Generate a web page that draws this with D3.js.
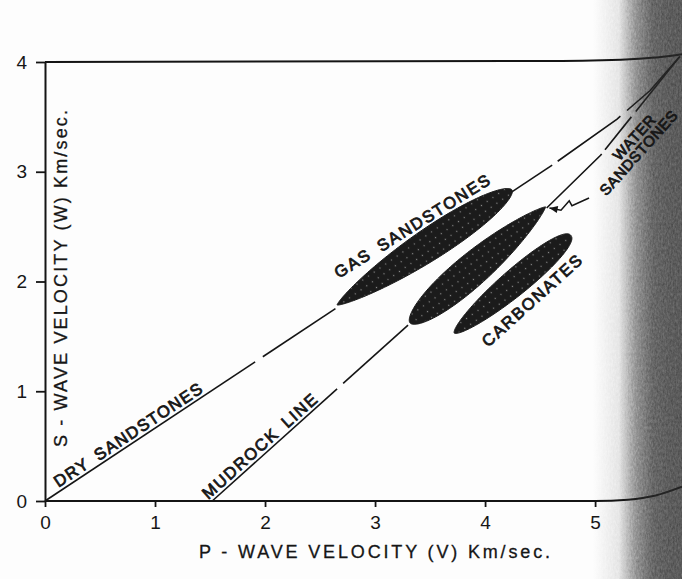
<!DOCTYPE html>
<html>
<head>
<meta charset="utf-8">
<script src="https://cdn.jsdelivr.net/npm/d3@7"></script>
<style>
  html, body { margin: 0; padding: 0; background: #fdfdfd; }
  svg { display: block; }
  text { font-family: "Liberation Sans", Arial, Helvetica, sans-serif; fill: #161616; }
</style>
</head>
<body>
<svg id="chart" width="682" height="579"></svg>
<script>
// ---- axis ticks ----
const xTicks = [0, 1, 2, 3, 4, 5];
const yTicks = [0, 1, 2, 3, 4];

// ---- trend lines, points are [P-wave velocity, S-wave velocity] in km/s ----
const dryLine = [[0, 0], [4.61, 3.06], [5.2, 3.48], [5.5, 3.74], [5.77, 4.05]];
const drySpans = [[0, 1.91], [1.98, 2.64], [4.24, 4.61], [4.66, 5.23], [5.29, 5.77]];
const mudrockLine = [[1.52, 0], [3.32, 1.62]];
const mudrockSpans = [[1.52, 2.655], [2.71, 3.30]];
const waterLine = [[4.56, 2.67], [5.05, 3.15], [5.77, 4.05]];
const waterSpans = [[4.56, 5.06], [5.09, 5.33], [5.37, 5.77]];

// frame edges (the sheet bends upward near the binding)
const topEdge = [[0, 4], [4.7, 4.01], [5.4, 4.03], [5.6, 4.045], [5.79, 4.07]];
const bottomEdge = [[0, 0], [5.0, 0], [5.3, 0.012], [5.55, 0.05], [5.79, 0.13]];

// ---- rock-type fields: elongated clouds between two end points ----
const fieldNames = ["GAS SANDSTONES", "WATER SANDSTONES", "CARBONATES"];
const fieldStart = [[2.655, 1.786], [3.318, 1.622], [3.72, 1.53]];
const fieldEnd = [[4.245, 2.834], [4.55, 2.68], [4.78, 2.42]];
const fieldSpread = [0.145, 0.15, 0.12];          // half-width, km/s of Vs
const fieldShape = [[0.75, 0.55], [0.55, 0.8], [0.6, 0.45]];

// zigzag pointer from the water-sandstone label to its field
const pointer = [[4.945, 2.76], [4.79, 2.69], [4.765, 2.735], [4.69, 2.65], [4.585, 2.67]];

// ---- annotation text (en spaces keep the wide word gaps of the lettering) ----
const labels = ["DRY\u2002SANDSTONES", "MUDROCK\u2002LINE", "GAS\u2002SANDSTONES", "CARBONATES", "WATER", "SANDSTONES"];
const labelAt = [[0.783, 0.558], [1.984, 0.46], [3.364, 2.459], [4.459, 1.786], [5.39, 3.28], [5.43, 3.14]];
const labelTilt = [33.5, 41.9, 32, 42, 48, 48];
const labelLength = [174, 148, 180, 128, 55, 108];
const labelSize = [16.5, 16.5, 16.5, 16.5, 15, 15];

const svg = d3.select("#chart");
const W = 682, H = 579;

const x = d3.scaleLinear().domain([0, 5.79]).range([45, 682]);
const y = d3.scaleLinear().domain([0, 4]).range([501, 62]);

const defs = svg.append("defs");

// stipple fill for the rock fields
const pat = defs.append("pattern")
  .attr("id", "stipple")
  .attr("patternUnits", "userSpaceOnUse")
  .attr("width", 7).attr("height", 7)
  .attr("patternTransform", "rotate(-35)");
pat.append("rect").attr("width", 7).attr("height", 7).attr("fill", "#1b1b1b");
pat.append("circle").attr("cx", 3.5).attr("cy", 3.5).attr("r", 0.7).attr("fill", "#8c8c8c");

// binding shadow on the right edge
const grad = defs.append("linearGradient").attr("id", "shade")
  .attr("x1", 0).attr("x2", 1).attr("y1", 0).attr("y2", 0);
[[0, 0], [0.3, 0.08], [0.5, 0.45], [0.68, 0.68], [0.85, 0.74], [1, 0.76]].forEach(([o, a]) =>
  grad.append("stop").attr("offset", o).attr("stop-color", "#2a2a2a").attr("stop-opacity", a));

const grain = defs.append("filter").attr("id", "grain")
  .attr("x", 0).attr("y", 0).attr("width", 1).attr("height", 1);
grain.append("feTurbulence").attr("type", "fractalNoise")
  .attr("baseFrequency", "0.6 0.3").attr("numOctaves", 3).attr("seed", 4).attr("result", "n");
grain.append("feComposite").attr("in", "SourceGraphic").attr("in2", "n").attr("operator", "in");

const line = d3.line().x(d => x(d[0])).y(d => y(d[1]));

function vsAt(pts, v) {
  for (let i = 1; i < pts.length; i++) {
    const [v0, w0] = pts[i - 1], [v1, w1] = pts[i];
    if (v <= v1 || i === pts.length - 1) return w0 + (w1 - w0) * (v - v0) / (v1 - v0);
  }
}
function spanPaths(pts, spans) {
  return spans.map(([s, e]) => {
    const p = [[s, vsAt(pts, s)]];
    pts.forEach(([v, w]) => { if (v > s && v < e) p.push([v, w]); });
    p.push([e, vsAt(pts, e)]);
    return line(p);
  });
}

// frame
const frame = svg.append("g").attr("fill", "none").attr("stroke", "#141414").attr("stroke-width", 2);
frame.append("path").attr("d", line.curve(d3.curveMonotoneX)(topEdge));
frame.append("path").attr("d", line.curve(d3.curveMonotoneX)(bottomEdge));
line.curve(d3.curveLinear);

// axes
const gx = svg.append("g")
  .attr("transform", `translate(0,${y(0)})`)
  .call(d3.axisBottom(x).tickValues(xTicks).tickSize(6).tickPadding(9).tickFormat(d3.format("d")));
gx.select(".domain").remove();
gx.selectAll(".tick line").attr("stroke", "#141414").attr("stroke-width", 1.8);
gx.selectAll(".tick text").attr("font-size", 19);

const gy = svg.append("g")
  .attr("transform", `translate(${x(0)},0)`)
  .call(d3.axisLeft(y).tickValues(yTicks).tickSize(9).tickSizeOuter(0).tickPadding(9).tickFormat(d3.format("d")));
gy.select(".domain").attr("stroke", "#141414").attr("stroke-width", 2);
gy.selectAll(".tick line").attr("stroke", "#141414").attr("stroke-width", 1.8);
gy.selectAll(".tick text").attr("font-size", 19);
gx.attr("font-family", null); gy.attr("font-family", null);

// axis titles
svg.append("text")
  .attr("x", 374.5).attr("y", 558)
  .attr("text-anchor", "middle")
  .attr("font-size", 18)
  .attr("stroke", "#161616").attr("stroke-width", 0.3)
  .attr("textLength", 351).attr("lengthAdjust", "spacing")
  .text("P - WAVE VELOCITY (V) Km/sec.");
svg.append("text")
  .attr("transform", "translate(67,278.5) rotate(-90)")
  .attr("text-anchor", "middle")
  .attr("font-size", 18)
  .attr("stroke", "#161616").attr("stroke-width", 0.3)
  .attr("textLength", 337).attr("lengthAdjust", "spacing")
  .text("S - WAVE VELOCITY (W) Km/sec.");

// trend lines
const trends = svg.append("g").attr("fill", "none").attr("stroke", "#151515").attr("stroke-width", 1.6);
[[dryLine, drySpans], [mudrockLine, mudrockSpans], [waterLine, waterSpans]].forEach(([pts, spans]) => {
  spanPaths(pts, spans).forEach(d => trends.append("path").attr("d", d));
});

// rock fields
function fieldPath(i) {
  const [v1, w1] = fieldStart[i], [v2, w2] = fieldEnd[i];
  const ax = x(v1), ay = y(w1), bx = x(v2), by = y(w2);
  const L = Math.hypot(bx - ax, by - ay), ux = (bx - ax) / L, uy = (by - ay) / L;
  const nx = -uy, ny = ux;
  const half = y(0) - y(fieldSpread[i]);
  const [a, b] = fieldShape[i];
  const tm = a / (a + b), norm = Math.pow(tm, a) * Math.pow(1 - tm, b);
  const up = [], dn = [];
  const N = 90;
  for (let k = 0; k <= N; k++) {
    const t = (1 - Math.cos(Math.PI * k / N)) / 2;
    const h = half * Math.pow(t, a) * Math.pow(1 - t, b) / norm;
    const px = ax + ux * L * t, py = ay + uy * L * t;
    up.push([px + nx * h, py + ny * h]);
    dn.push([px - nx * h, py - ny * h]);
  }
  return d3.line()(up.concat(dn.reverse())) + "Z";
}
svg.append("g").selectAll("path")
  .data(fieldNames)
  .join("path")
  .attr("d", (d, i) => fieldPath(i))
  .attr("fill", "url(#stipple)")
  .attr("stroke", "#1b1b1b").attr("stroke-width", 1);

// zigzag pointer with arrow head
svg.append("path")
  .attr("d", line(pointer))
  .attr("fill", "none").attr("stroke", "#151515").attr("stroke-width", 1.6)
  .attr("stroke-linejoin", "miter");
{
  const n = pointer.length;
  const tip = [x(pointer[n - 1][0]), y(pointer[n - 1][1])];
  const prev = [x(pointer[n - 2][0]), y(pointer[n - 2][1])];
  const ang = Math.atan2(tip[1] - prev[1], tip[0] - prev[0]);
  const len = 9, spread = 0.42;
  const p1 = [tip[0] - len * Math.cos(ang - spread), tip[1] - len * Math.sin(ang - spread)];
  const p2 = [tip[0] - len * Math.cos(ang + spread), tip[1] - len * Math.sin(ang + spread)];
  svg.append("path").attr("d", d3.line()([p1, tip, p2]) + "Z").attr("fill", "#151515");
}

// binding shadow
svg.append("rect").attr("x", 592).attr("y", 0).attr("width", W - 592).attr("height", H)
  .attr("fill", "url(#shade)").attr("opacity", 0.85);
svg.append("rect").attr("x", 592).attr("y", 0).attr("width", W - 592).attr("height", H)
  .attr("fill", "url(#shade)").attr("filter", "url(#grain)").attr("opacity", 0.9);

// labels (drawn over the shadow so they stay dark)
labels.forEach((t, i) => {
  const [v, w] = labelAt[i];
  svg.append("text")
    .attr("transform", `translate(${x(v)},${y(w)}) rotate(${-labelTilt[i]})`)
    .attr("text-anchor", "middle")
    .attr("font-size", labelSize[i])
    .attr("stroke", "#161616").attr("stroke-width", 0.8)
    .attr("textLength", labelLength[i]).attr("lengthAdjust", "spacing")
    .text(t);
});
</script>
</body>
</html>
